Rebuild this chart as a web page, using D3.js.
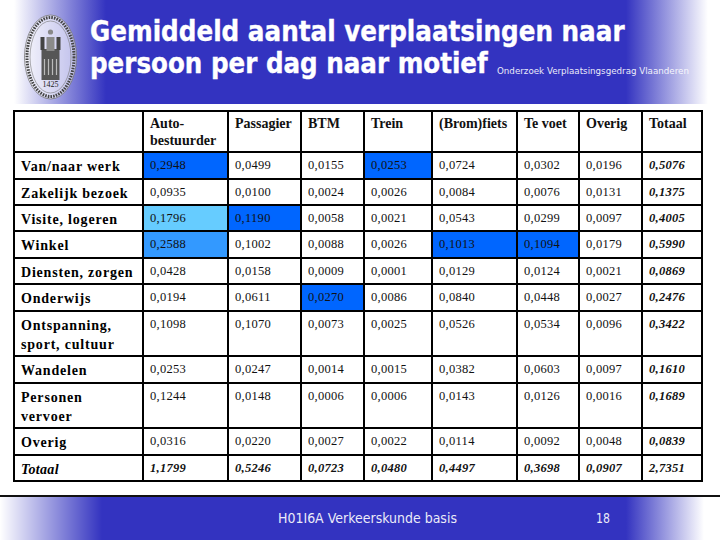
<!DOCTYPE html>
<html>
<head>
<meta charset="utf-8">
<script src="https://cdn.jsdelivr.net/npm/d3@7"></script>
<style>
  html, body { margin: 0; padding: 0; background: #fff; }
  svg { display: block; }
</style>
</head>
<body>
<div id="slide"></div>
<script>
var columns = [["Auto-", "bestuurder"], ["Passagier"], ["BTM"], ["Trein"], ["(Brom)fiets"], ["Te voet"], ["Overig"], ["Totaal"]];
var motives = [["Van/naar werk"], ["Zakelijk bezoek"], ["Visite, logeren"], ["Winkel"], ["Diensten, zorgen"], ["Onderwijs"],
  ["Ontspanning,", "sport, cultuur"], ["Wandelen"], ["Personen", "vervoer"], ["Overig"], ["Totaal"]];

var werk       = ["0,2948", "0,0499", "0,0155", "0,0253", "0,0724", "0,0302", "0,0196", "0,5076"];
var zakelijk   = ["0,0935", "0,0100", "0,0024", "0,0026", "0,0084", "0,0076", "0,0131", "0,1375"];
var visite     = ["0,1796", "0,1190", "0,0058", "0,0021", "0,0543", "0,0299", "0,0097", "0,4005"];
var winkel     = ["0,2588", "0,1002", "0,0088", "0,0026", "0,1013", "0,1094", "0,0179", "0,5990"];
var diensten   = ["0,0428", "0,0158", "0,0009", "0,0001", "0,0129", "0,0124", "0,0021", "0,0869"];
var onderwijs  = ["0,0194", "0,0611", "0,0270", "0,0086", "0,0840", "0,0448", "0,0027", "0,2476"];
var ontspan    = ["0,1098", "0,1070", "0,0073", "0,0025", "0,0526", "0,0534", "0,0096", "0,3422"];
var wandelen   = ["0,0253", "0,0247", "0,0014", "0,0015", "0,0382", "0,0603", "0,0097", "0,1610"];
var personen   = ["0,1244", "0,0148", "0,0006", "0,0006", "0,0143", "0,0126", "0,0016", "0,1689"];
var overig     = ["0,0316", "0,0220", "0,0027", "0,0022", "0,0114", "0,0092", "0,0048", "0,0839"];
var totaal     = ["1,1799", "0,5246", "0,0723", "0,0480", "0,4497", "0,3698", "0,0907", "2,7351"];
var rows = [werk, zakelijk, visite, winkel, diensten, onderwijs, ontspan, wandelen, personen, overig, totaal];

// [row, column, shade]
var highlights = [[0, 0, 0], [0, 3, 0], [2, 0, 2], [2, 1, 0], [3, 0, 1], [3, 4, 0], [3, 5, 0], [5, 2, 0]];

var xEdges = [14, 143, 228, 301, 364, 432, 517, 579, 642, 702];
var yEdges = [111, 152, 179, 205, 231, 258, 284, 311, 356, 383, 428, 455, 481];
var shade = d3.scaleOrdinal().domain([0, 1, 2]).range(["#0066ff", "#3399ff", "#66ccff"]);

var width = 720, height = 540, blue = "#3333c0";

var svg = d3.select("#slide").append("svg").attr("width", width).attr("height", height);
var defs = svg.append("defs");

function fade(id, from, to) {
  var g = defs.append("linearGradient").attr("id", id);
  g.append("stop").attr("offset", "0").attr("stop-color", from);
  g.append("stop").attr("offset", "1").attr("stop-color", to);
}
fade("fadeIn", "#ffffff", blue);
fade("fadeOut", blue, "#ffffff");

function band(y, h, x0, x1, x2) {
  svg.append("rect").attr("x", x0).attr("y", y).attr("width", x2 - x0).attr("height", h).attr("fill", blue);
  svg.append("rect").attr("x", x0).attr("y", y).attr("width", x1 - x0).attr("height", h).attr("fill", "url(#fadeIn)");
  svg.append("rect").attr("x", 626).attr("y", y).attr("width", x2 - 626).attr("height", h).attr("fill", "url(#fadeOut)");
}
band(0, 104, 14, 106, 708);
band(497, 43, 0, 102, 704);
svg.append("rect").attr("x", 0).attr("y", 495).attr("width", width).attr("height", 2).attr("fill", "#111");

// squeeze a line of text into a given width, the slide font is narrower than ours
function fitted(x, y, size, bold, targetWidth, str) {
  var t = svg.append("text").attr("font-family", "'DejaVu Sans', sans-serif")
    .attr("font-weight", bold ? "bold" : "normal")
    .attr("font-size", size).attr("fill", "#fff").text(str);
  var sx = targetWidth / t.node().getComputedTextLength();
  t.attr("transform", "translate(" + x + "," + y + ") scale(" + sx + ",1)");
  return t;
}
fitted(90, 41, 29, true, 535, "Gemiddeld aantal verplaatsingen naar").attr("stroke", "#fff").attr("stroke-width", 0.4);
fitted(90, 73, 29, true, 398, "persoon per dag naar motief").attr("stroke", "#fff").attr("stroke-width", 0.4);
fitted(497, 74, 9.5, false, 192, "Onderzoek Verplaatsingsgedrag Vlaanderen").attr("opacity", 0.9);

// footer
fitted(278, 523, 14, false, 179, "H01I6A Verkeerskunde basis").attr("opacity", 0.9);
fitted(596, 523, 14, false, 14, "18").attr("opacity", 0.9);

// seal
var seal = svg.append("g").attr("transform", "translate(50.5,57)");
seal.append("ellipse").attr("rx", 26).attr("ry", 42).attr("fill", "#fff").attr("fill-opacity", 0.55)
  .attr("stroke", "#777").attr("stroke-width", 0.8);
seal.append("ellipse").attr("rx", 23.5).attr("ry", 39.5).attr("fill", "none").attr("stroke", "#444")
  .attr("stroke-width", 3).attr("stroke-dasharray", "1.6 1.1");
seal.append("ellipse").attr("rx", 20.5).attr("ry", 36).attr("fill", "none").attr("stroke", "#777").attr("stroke-width", 0.6);
seal.append("rect").attr("x", -9).attr("y", -8).attr("width", 18).attr("height", 31).attr("fill", "#565656");
seal.append("rect").attr("x", -10).attr("y", -20).attr("width", 4).attr("height", 13).attr("fill", "#444");
seal.append("rect").attr("x", 6).attr("y", -20).attr("width", 4).attr("height", 13).attr("fill", "#444");
seal.append("rect").attr("x", -4).attr("y", -20).attr("width", 8).attr("height", 14).attr("fill", "#8a8a8a");
seal.append("circle").attr("cy", -25).attr("r", 2.6).attr("fill", "#888");
seal.selectAll("rect.slit").data([-6, -2, 2, 6]).join("rect").attr("class", "slit")
  .attr("x", function (d) { return d - 0.6; }).attr("y", 2).attr("width", 1.2).attr("height", 16).attr("fill", "#bbb");
seal.append("text").attr("y", 30).attr("text-anchor", "middle").attr("font-family", "'Liberation Serif', serif")
  .attr("font-size", 8).attr("fill", "#222").text("1425");

// table
var table = svg.append("g");
var serif = "'Liberation Serif', serif";

table.selectAll("rect.hl").data(highlights).join("rect").attr("class", "hl")
  .attr("x", function (d) { return xEdges[d[1] + 1]; })
  .attr("y", function (d) { return yEdges[d[0] + 1]; })
  .attr("width", function (d) { return xEdges[d[1] + 2] - xEdges[d[1] + 1]; })
  .attr("height", function (d) { return yEdges[d[0] + 2] - yEdges[d[0] + 1]; })
  .attr("fill", function (d) { return shade(d[2]); });

table.selectAll("line.v").data(xEdges).join("line").attr("class", "v")
  .attr("x1", function (d) { return d; }).attr("x2", function (d) { return d; })
  .attr("y1", yEdges[0] - 1).attr("y2", yEdges[yEdges.length - 1] + 1)
  .attr("stroke", "#000").attr("stroke-width", 2);
table.selectAll("line.h").data(yEdges).join("line").attr("class", "h")
  .attr("y1", function (d) { return d; }).attr("y2", function (d) { return d; })
  .attr("x1", xEdges[0] - 1).attr("x2", xEdges[xEdges.length - 1] + 1)
  .attr("stroke", "#000").attr("stroke-width", 2);

// header cells
columns.forEach(function (lines, c) {
  lines.forEach(function (line, i) {
    table.append("text").attr("x", xEdges[c + 1] + 7).attr("y", yEdges[0] + 17 + i * 17)
      .attr("font-family", serif).attr("font-size", 14).attr("font-weight", "bold").attr("fill", "#111").text(line);
  });
});

// row labels
motives.forEach(function (lines, r) {
  var last = r === motives.length - 1;
  lines.forEach(function (line, i) {
    table.append("text").attr("x", 21).attr("y", yEdges[r + 1] + 19 + i * 19)
      .attr("font-family", serif).attr("font-size", 14).attr("font-weight", "bold").attr("fill", "#000")
      .attr("font-style", last ? "italic" : "normal")
      .attr("letter-spacing", last ? 0.3 : 0.8).text(line);
  });
});

// values
rows.forEach(function (values, r) {
  table.append("g").selectAll("text").data(values).join("text")
    .attr("x", function (d, c) { return xEdges[c + 1] + 7; })
    .attr("y", yEdges[r + 1] + 16.5)
    .attr("font-family", serif).attr("font-size", 12.5).attr("fill", "#111")
    .attr("letter-spacing", 0.3)
    .attr("font-style", function (d, c) { return (c === 7 || r === 10) ? "italic" : "normal"; })
    .attr("font-weight", function (d, c) { return (c === 7 || r === 10) ? "bold" : "normal"; })
    .text(function (d) { return d; });
});
</script>
</body>
</html>
